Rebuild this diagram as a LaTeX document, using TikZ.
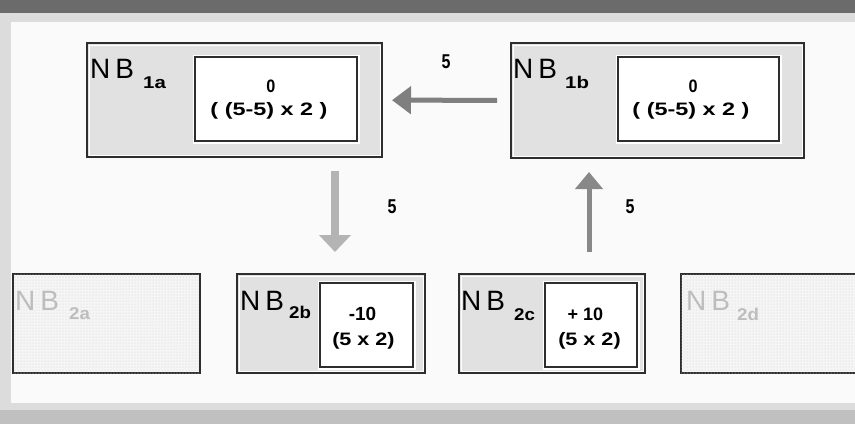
\documentclass[tikz,border=0pt]{standalone}
\usepackage{fontspec}
\setmainfont{Liberation Sans}
\usetikzlibrary{arrows.meta,calc,patterns}
\definecolor{barc}{HTML}{6B6B6B}
\definecolor{bandc}{HTML}{DCDCDC}
\definecolor{botc}{HTML}{C0C0C0}
\definecolor{areac}{HTML}{FAFAFA}
\definecolor{boxline}{HTML}{2E2E2E}
\definecolor{boxfill}{HTML}{E1E1E1}
\definecolor{fadefill}{HTML}{F5F5F5}
\definecolor{dotc}{HTML}{CFCFCF}
\definecolor{fadetext}{HTML}{BDBDBD}
\definecolor{hcol}{HTML}{7F7F7F}
\definecolor{dcol}{HTML}{B4B4B4}
\definecolor{ucol}{HTML}{888888}
\newcommand\sx[2]{\scalebox{#1}[1]{#2}}
\tikzset{
  outerbox/.style={draw=boxline, line width=2pt, fill=boxfill, inner sep=0pt},
  fadedbox/.style={draw=boxline, line width=2pt, fill=fadefill, inner sep=0pt,
     postaction={pattern=dots, pattern color=dotc}},
  innerbox/.style={draw=boxline, line width=2pt, fill=white, inner sep=0pt,
     preaction={draw=white, line width=5pt}},
  inset/.style={draw=white, line width=1pt},
  nbtext/.style={inner sep=0pt, anchor=base west, font=\fontsize{28}{28}\selectfont},
  subtext/.style={inner sep=0pt, anchor=base west, font=\fontsize{17}{17}\selectfont\bfseries},
  valtext/.style={inner sep=0pt, anchor=center, font=\fontsize{18}{18}\selectfont\bfseries},
  lbl/.style={inner sep=0pt, anchor=center, font=\fontsize{20}{20}\selectfont\bfseries},
  harrow/.style={draw=hcol, line width=5pt, -{Triangle[width=27pt,length=19pt]}},
  darrow/.style={draw=dcol, line width=8pt, -{Triangle[width=31pt,length=17pt]}},
  uarrow/.style={draw=ucol, line width=5pt, -{Triangle[width=27pt,length=17pt]}},
}
\newcommand\NB{N\kern5pt B}
\begin{document}
\begin{tikzpicture}[x=1pt,y=-1pt]
\useasboundingbox (0,0) rectangle (855,424);
\clip (0,0) rectangle (855,424);
% background frame
\fill[bandc] (0,0) rectangle (855,424);
\fill[barc] (0,0) rectangle (855,13);
\fill[botc] (0,410) rectangle (855,424);
\fill[areac] (11,22) rectangle (855,403);

% top boxes
\node[outerbox, minimum width=295pt, minimum height=114pt] (a1) at (234.5,100) {};
\draw[inset] ([shift={(3,3)}]a1.north west) rectangle ([shift={(-3,-3)}]a1.south east);
\node[innerbox, minimum width=162pt, minimum height=84pt] (a1i) at (276,99) {};
\node[nbtext] (a1n) at (90,78) {\NB};
\node[subtext] (a1s) at (143,88) {\sx{1.2}{1a}};
\node[valtext] (a1v) at (271,86) {\sx{0.9}{0}};
\node[valtext] (a1w) at (269,111) {\sx{1.3}{( (5-5) x 2 )}};

\node[outerbox, minimum width=293pt, minimum height=115pt] (b1) at (657.5,100.5) {};
\draw[inset] ([shift={(3,3)}]b1.north west) rectangle ([shift={(-3,-3)}]b1.south east);
\node[innerbox, minimum width=161pt, minimum height=84pt] (b1i) at (698.5,99) {};
\node[nbtext] (b1n) at (513,78) {\NB};
\node[subtext] (b1s) at (565,88) {\sx{1.2}{1b}};
\node[valtext] (b1v) at (693,86) {\sx{0.9}{0}};
\node[valtext] (b1w) at (691,111) {\sx{1.3}{( (5-5) x 2 )}};

% bottom boxes
\node[fadedbox, minimum width=187pt, minimum height=99pt] (a2) at (106.5,323.5) {};
\node[nbtext, text=fadetext] (a2n) at (15,310) {\NB};
\node[subtext, text=fadetext] (a2s) at (69,319) {\sx{1.1}{2a}};

\node[outerbox, minimum width=188pt, minimum height=99pt] (b2) at (331,323.5) {};
\draw[inset] ([shift={(3,3)}]b2.north west) rectangle ([shift={(-3,-3)}]b2.south east);
\node[innerbox, minimum width=93pt, minimum height=84pt] (b2i) at (366.5,325) {};
\node[nbtext] (b2n) at (240,310) {\NB};
\node[subtext] (b2s) at (289,318) {\sx{1.1}{2b}};
\node[valtext, font=\fontsize{19}{19}\selectfont\bfseries] (b2v) at (362.5,314) {-10};
\node[valtext] (b2w) at (363.5,341) {\sx{1.2}{(5 x 2)}};

\node[outerbox, minimum width=186pt, minimum height=99pt] (c2) at (552,323.5) {};
\draw[inset] ([shift={(3,3)}]c2.north west) rectangle ([shift={(-3,-3)}]c2.south east);
\node[innerbox, minimum width=92pt, minimum height=84pt] (c2i) at (591,325) {};
\node[nbtext] (c2n) at (461,310) {\NB};
\node[subtext] (c2s) at (514,320) {\sx{1.1}{2c}};
\node[valtext] (c2v) at (585.5,314) {+ 10};
\node[valtext] (c2w) at (589.5,341) {\sx{1.2}{(5 x 2)}};

\node[fadedbox, minimum width=187pt, minimum height=99pt] (d2) at (774.5,323.5) {};
\node[nbtext, text=fadetext] (d2n) at (686,310) {\NB};
\node[subtext, text=fadetext] (d2s) at (737,320) {\sx{1.1}{2d}};

% arrows
\draw[harrow, shorten <=13pt, shorten >=9pt] (b1) -- (a1);
\coordinate (dtop) at ($(a1.south -| b2.north)+(4,0)$);
\coordinate (dbot) at ($(b2.north)+(4,0)$);
\draw[darrow, shorten <=13pt, shorten >=21pt] (dtop) -- (dbot);
\coordinate (ubot) at ($(c2.north)+(37,0)$);
\coordinate (utop) at ($(b1.south -| ubot)$);
\draw[uarrow, shorten <=21pt, shorten >=13pt] (ubot) -- (utop);

% labels
\node[lbl] (l1) at (446,62) {\sx{0.8}{5}};
\node[lbl] (l2) at (392,207) {\sx{0.8}{5}};
\node[lbl] (l3) at (630,207) {\sx{0.8}{5}};
\end{tikzpicture}
\end{document}
